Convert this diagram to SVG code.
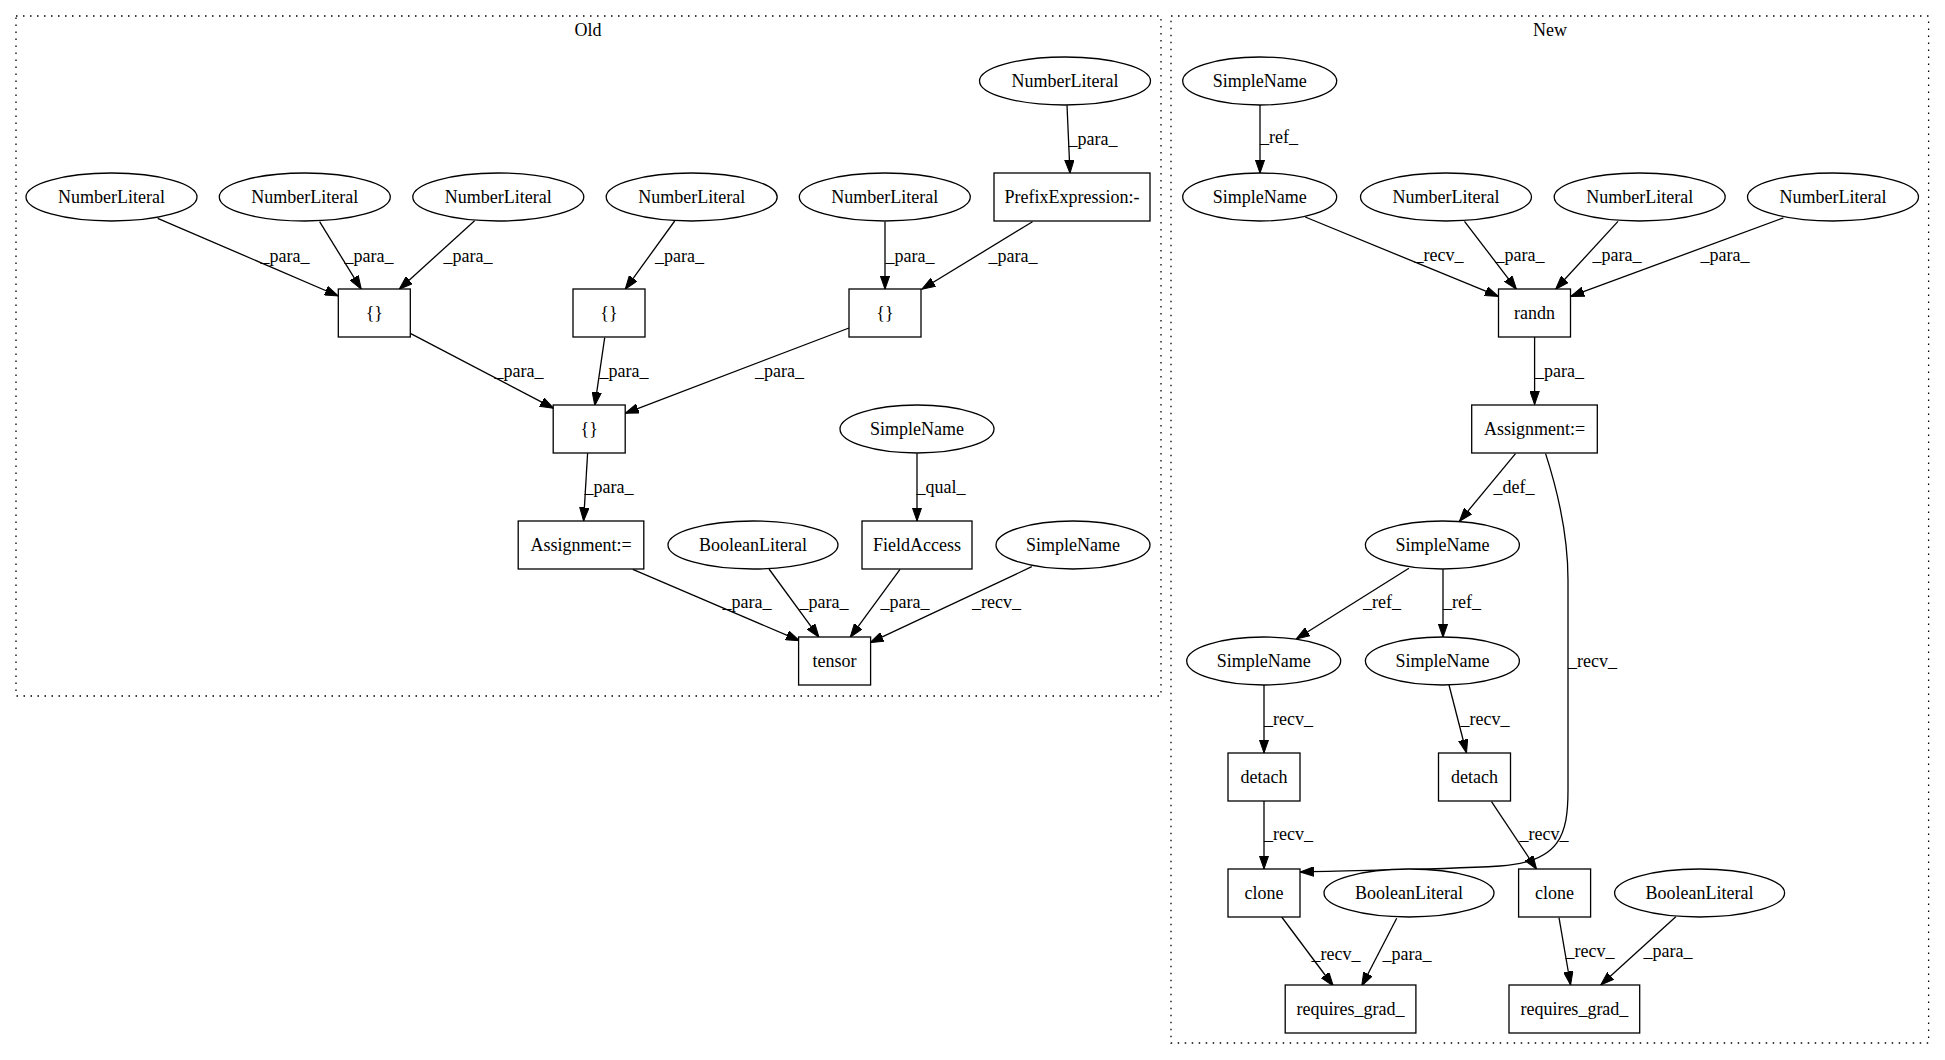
<svg xmlns="http://www.w3.org/2000/svg" width="1945" height="1060" viewBox="0 0 1945 1060">
<style>
text { font-family: "Liberation Serif", "Times New Roman", serif; font-size: 18px; fill: #000; text-anchor: middle; }
.node ellipse, .node rect { fill: #fff; stroke: #000; stroke-width: 1.3; }
.edge { fill: none; stroke: #000; stroke-width: 1.3; marker-end: url(#arrow); }
.cluster { fill: none; stroke: #000; stroke-width: 1.3; stroke-dasharray: 1.5 5.5; }
</style>
<defs>
<marker id="arrow" markerUnits="userSpaceOnUse" markerWidth="14" markerHeight="10" viewBox="0 0 14 10" refX="13.5" refY="5" orient="auto">
<path d="M0,0.3 L13.5,5 L0,9.7 z" fill="#000" stroke="#000" stroke-width="1"/>
</marker>
</defs>
<rect width="1945" height="1060" fill="#fff"/>

<g id="cluster_old">
<rect class="cluster" x="16" y="16" width="1145" height="680"/>
<text x="588" y="36">Old</text>
</g>
<g id="cluster_new">
<rect class="cluster" x="1171" y="16" width="757.6" height="1027"/>
<text x="1550" y="36">New</text>
</g>

<g id="connectors">
<!-- Old -->
<line class="edge" x1="157.7" y1="218.3" x2="338.3" y2="296"/>
<text x="285" y="262">_para_</text>
<line class="edge" x1="319.6" y1="221.7" x2="361.3" y2="289.3"/>
<text x="369" y="262">_para_</text>
<line class="edge" x1="474.6" y1="220.7" x2="399.2" y2="289.3"/>
<text x="468" y="262">_para_</text>
<line class="edge" x1="410.3" y1="333.3" x2="553.7" y2="408.3"/>
<text x="519" y="377">_para_</text>
<line class="edge" x1="674.7" y1="221" x2="625.2" y2="289.3"/>
<text x="679.5" y="262">_para_</text>
<line class="edge" x1="604.7" y1="337.7" x2="594.8" y2="405.5"/>
<text x="624" y="377">_para_</text>
<line class="edge" x1="885" y1="221.7" x2="885" y2="289.3"/>
<text x="910" y="262">_para_</text>
<line class="edge" x1="1032.5" y1="221.7" x2="921.8" y2="289.3"/>
<text x="1013" y="262">_para_</text>
<line class="edge" x1="849" y1="328" x2="625.2" y2="413.3"/>
<text x="779.5" y="377">_para_</text>
<line class="edge" x1="1067" y1="105.3" x2="1070" y2="173.3"/>
<text x="1093" y="145">_para_</text>
<line class="edge" x1="587.6" y1="453.3" x2="583.6" y2="521"/>
<text x="609" y="493">_para_</text>
<line class="edge" x1="917" y1="453.3" x2="917" y2="521"/>
<text x="941" y="493">_qual_</text>
<line class="edge" x1="632.8" y1="569.3" x2="799.5" y2="640.7"/>
<text x="747" y="608">_para_</text>
<line class="edge" x1="769" y1="569" x2="819" y2="637.3"/>
<text x="824" y="608">_para_</text>
<line class="edge" x1="900" y1="569.3" x2="850.2" y2="637.3"/>
<text x="905" y="608">_para_</text>
<line class="edge" x1="1031.8" y1="566.7" x2="870" y2="642.7"/>
<text x="996.6" y="608">_recv_</text>
<!-- New -->
<line class="edge" x1="1260" y1="104.6" x2="1260" y2="173.2"/>
<text x="1279" y="143">_ref_</text>
<line class="edge" x1="1305.2" y1="217" x2="1498.5" y2="296.4"/>
<text x="1439" y="261">_recv_</text>
<line class="edge" x1="1464.5" y1="221.4" x2="1516.5" y2="289.3"/>
<text x="1520" y="261">_para_</text>
<line class="edge" x1="1618" y1="221.4" x2="1555.6" y2="289.3"/>
<text x="1617" y="261">_para_</text>
<line class="edge" x1="1783.4" y1="217.9" x2="1570.6" y2="296.4"/>
<text x="1725" y="261">_para_</text>
<line class="edge" x1="1534.6" y1="336.8" x2="1534.6" y2="404.6"/>
<text x="1559.6" y="377">_para_</text>
<line class="edge" x1="1515.5" y1="453.6" x2="1459.4" y2="521.4"/>
<text x="1514" y="493">_def_</text>
<path class="edge" d="M1545.6,453.6 C1558,492 1568,535 1568,580 L1568,790 C1568,835 1560,862 1500,866 C1430,870 1360,870 1300.2,872"/>
<text x="1592.6" y="667">_recv_</text>
<line class="edge" x1="1408.9" y1="568.3" x2="1296.2" y2="639"/>
<text x="1382" y="608">_ref_</text>
<line class="edge" x1="1443" y1="569.3" x2="1443" y2="637.3"/>
<text x="1462" y="608">_ref_</text>
<line class="edge" x1="1264" y1="685" x2="1264" y2="753"/>
<text x="1288.6" y="725">_recv_</text>
<line class="edge" x1="1449" y1="685" x2="1466.5" y2="753"/>
<text x="1485" y="725">_recv_</text>
<line class="edge" x1="1264" y1="801" x2="1264" y2="869"/>
<text x="1288.6" y="840">_recv_</text>
<line class="edge" x1="1491.5" y1="801.7" x2="1536.6" y2="869.3"/>
<text x="1544" y="840">_recv_</text>
<line class="edge" x1="1281.7" y1="917" x2="1333.3" y2="986"/>
<text x="1336" y="960">_recv_</text>
<line class="edge" x1="1396.7" y1="918.3" x2="1361.7" y2="986"/>
<text x="1407" y="960">_para_</text>
<line class="edge" x1="1559" y1="917.7" x2="1570.6" y2="985"/>
<text x="1590" y="957">_recv_</text>
<line class="edge" x1="1675.8" y1="916.7" x2="1600.7" y2="985"/>
<text x="1668" y="957">_para_</text>
</g>

<!-- Old nodes -->
<g id="o_nl0" class="node"><ellipse cx="1065" cy="81" rx="85.5" ry="24"/><text x="1065" y="86.5">NumberLiteral</text></g>
<g id="o_prefix" class="node"><rect x="994" y="173" width="156" height="48"/><text x="1072" y="202.5">PrefixExpression:-</text></g>
<g id="o_nl1" class="node"><ellipse cx="111.5" cy="197" rx="85.5" ry="24"/><text x="111.5" y="202.5">NumberLiteral</text></g>
<g id="o_nl2" class="node"><ellipse cx="304.8" cy="197" rx="85.5" ry="24"/><text x="304.8" y="202.5">NumberLiteral</text></g>
<g id="o_nl3" class="node"><ellipse cx="498.3" cy="197" rx="85.5" ry="24"/><text x="498.3" y="202.5">NumberLiteral</text></g>
<g id="o_nl4" class="node"><ellipse cx="691.7" cy="197" rx="85.5" ry="24"/><text x="691.7" y="202.5">NumberLiteral</text></g>
<g id="o_nl5" class="node"><ellipse cx="884.8" cy="197" rx="85.5" ry="24"/><text x="884.8" y="202.5">NumberLiteral</text></g>
<g id="o_brA" class="node"><rect x="338.3" y="289" width="72" height="48"/><text x="374.3" y="318.5">{}</text></g>
<g id="o_brB" class="node"><rect x="573" y="289" width="72" height="48"/><text x="609" y="318.5">{}</text></g>
<g id="o_brC" class="node"><rect x="849" y="289" width="72" height="48"/><text x="885" y="318.5">{}</text></g>
<g id="o_brD" class="node"><rect x="553.2" y="405" width="72" height="48"/><text x="589.2" y="434.5">{}</text></g>
<g id="o_sn_qual" class="node"><ellipse cx="917" cy="429" rx="77" ry="24"/><text x="917" y="434.5">SimpleName</text></g>
<g id="o_assign" class="node"><rect x="518.2" y="521" width="125.6" height="48"/><text x="581" y="550.5">Assignment:=</text></g>
<g id="o_bool" class="node"><ellipse cx="753" cy="545" rx="85" ry="24"/><text x="753" y="550.5">BooleanLiteral</text></g>
<g id="o_field" class="node"><rect x="862" y="521" width="110" height="48"/><text x="917" y="550.5">FieldAccess</text></g>
<g id="o_sn_recv" class="node"><ellipse cx="1073" cy="545" rx="77" ry="24"/><text x="1073" y="550.5">SimpleName</text></g>
<g id="o_tensor" class="node"><rect x="798.6" y="637" width="72" height="48"/><text x="834.6" y="666.5">tensor</text></g>

<!-- New nodes -->
<g id="n_sn0" class="node"><ellipse cx="1259.7" cy="81" rx="77" ry="24"/><text x="1259.7" y="86.5">SimpleName</text></g>
<g id="n_sn1" class="node"><ellipse cx="1259.7" cy="197" rx="77" ry="24"/><text x="1259.7" y="202.5">SimpleName</text></g>
<g id="n_nl1" class="node"><ellipse cx="1446" cy="197" rx="85.5" ry="24"/><text x="1446" y="202.5">NumberLiteral</text></g>
<g id="n_nl2" class="node"><ellipse cx="1639.7" cy="197" rx="85.5" ry="24"/><text x="1639.7" y="202.5">NumberLiteral</text></g>
<g id="n_nl3" class="node"><ellipse cx="1833" cy="197" rx="85.5" ry="24"/><text x="1833" y="202.5">NumberLiteral</text></g>
<g id="n_randn" class="node"><rect x="1498.5" y="289" width="72" height="48"/><text x="1534.5" y="318.5">randn</text></g>
<g id="n_assign" class="node"><rect x="1471.7" y="405" width="125.6" height="48"/><text x="1534.5" y="434.5">Assignment:=</text></g>
<g id="n_sn2" class="node"><ellipse cx="1442.4" cy="545" rx="77" ry="24"/><text x="1442.4" y="550.5">SimpleName</text></g>
<g id="n_sn3" class="node"><ellipse cx="1263.7" cy="661" rx="77" ry="24"/><text x="1263.7" y="666.5">SimpleName</text></g>
<g id="n_sn4" class="node"><ellipse cx="1442.4" cy="661" rx="77" ry="24"/><text x="1442.4" y="666.5">SimpleName</text></g>
<g id="n_detach1" class="node"><rect x="1228" y="753" width="72" height="48"/><text x="1264" y="782.5">detach</text></g>
<g id="n_detach2" class="node"><rect x="1438.5" y="753" width="72" height="48"/><text x="1474.5" y="782.5">detach</text></g>
<g id="n_clone1" class="node"><rect x="1228" y="869" width="72" height="48"/><text x="1264" y="898.5">clone</text></g>
<g id="n_bool1" class="node"><ellipse cx="1409" cy="893" rx="85" ry="24"/><text x="1409" y="898.5">BooleanLiteral</text></g>
<g id="n_clone2" class="node"><rect x="1518.6" y="869" width="72" height="48"/><text x="1554.6" y="898.5">clone</text></g>
<g id="n_bool2" class="node"><ellipse cx="1699.6" cy="893" rx="85" ry="24"/><text x="1699.6" y="898.5">BooleanLiteral</text></g>
<g id="n_req1" class="node"><rect x="1285.2" y="985" width="130.7" height="48"/><text x="1350.5" y="1014.5">requires_grad_</text></g>
<g id="n_req2" class="node"><rect x="1509" y="985" width="130.7" height="48"/><text x="1574.4" y="1014.5">requires_grad_</text></g>
</svg>
